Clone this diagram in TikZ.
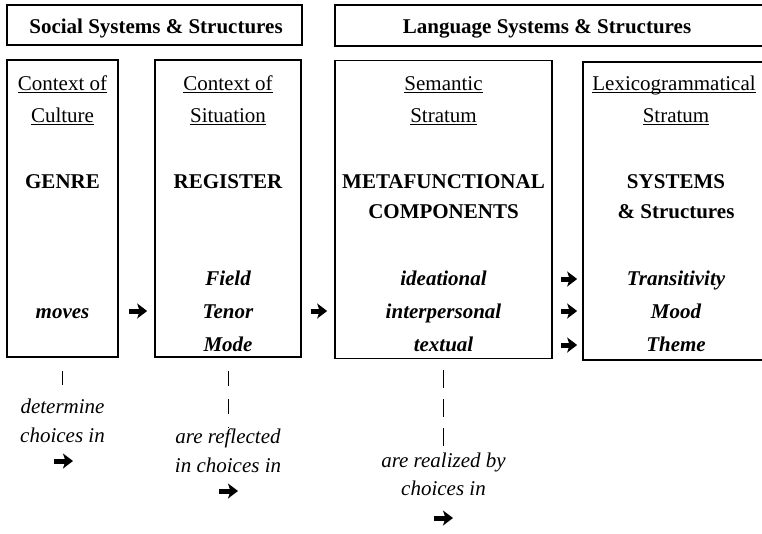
\documentclass[tikz,border=0pt]{standalone}
\usepackage{fontspec}
\setmainfont{Liberation Serif}
\usetikzlibrary{arrows.meta}
\newcommand\myul[1]{\setbox0\hbox{#1}\rlap{\rule[-3pt]{\wd0}{1.2pt}}\box0}
\begin{document}
\begin{tikzpicture}[x=1pt,y=-1pt,
  frame/.style={draw, line width=1.7pt, inner sep=0pt},
  txt/.style={anchor=base, inner sep=0pt, font=\fontsize{21}{25}\selectfont},
  bftxt/.style={txt, font=\fontsize{21}{25}\selectfont\bfseries},
  bitxt/.style={txt, font=\fontsize{21}{25}\selectfont\bfseries\itshape},
  ittxt/.style={txt, font=\fontsize{21}{25}\selectfont\itshape},
  fat/.style={line width=5pt, -{Stealth[length=10pt,width=15pt,inset=2.5pt]}},
  vline/.style={line width=1pt}]
\useasboundingbox (0,0) rectangle (762,533);
\fill[white] (0,0) rectangle (762,533);
\clip (0,0) rectangle (762,533);
% top boxes
\node[frame, minimum width=295pt, minimum height=40pt] (top1) at (154.5,25) {};
\node[frame, minimum width=435pt, minimum height=41pt] (top2) at (552.5,25.5) {};
\node[bftxt] (top1t) at (156,33) {Social Systems \& Structures};
\node[bftxt] (top2t) at (547,33) {Language Systems \& Structures};
% column boxes
\node[frame, minimum width=111pt, minimum height=297pt] (b1) at (62.5,208.5) {};
\node[frame, minimum width=146pt, minimum height=297pt] (b2) at (228,208.5) {};
\node[frame, minimum width=217pt, minimum height=298pt] (b3) at (443.5,209.5) {};
\node[frame, minimum width=186pt, minimum height=298pt] (b4) at (676,211) {};
% headers
\node[txt] (h1a) at (62.5,90) {\myul{Context of}};
\node[txt] (h1b) at (62.5,122) {\myul{Culture}};
\node[txt] (h2a) at (228,90) {\myul{Context of}};
\node[txt] (h2b) at (228,122) {\myul{Situation}};
\node[txt] (h3a) at (443.5,90) {\myul{Semantic}};
\node[txt] (h3b) at (443.5,122) {\myul{Stratum}};
\node[txt] (h4a) at (674,90) {\myul{Lexicogrammatical}};
\node[txt] (h4b) at (676,122) {\myul{Stratum}};
% main labels
\node[bftxt] (g1) at (62.5,188) {GENRE};
\node[bftxt] (g2) at (228,188) {REGISTER};
\node[bftxt] (g3) at (443.5,188) {METAFUNCTIONAL};
\node[bftxt] (g3b) at (443.5,218) {COMPONENTS};
\node[bftxt] (g4) at (676,188) {SYSTEMS};
\node[bftxt] (g4b) at (676,218) {\& Structures};
% items
\node[bitxt] (mv) at (62.5,318) {moves};
\node[bitxt] (f1) at (228,285) {Field};
\node[bitxt] (f2) at (228,318) {Tenor};
\node[bitxt] (f3) at (228,351) {Mode};
\node[bitxt] (m1) at (443.5,285) {ideational};
\node[bitxt] (m2) at (443.5,318) {interpersonal};
\node[bitxt] (m3) at (443.5,351) {textual};
\node[bitxt] (s1) at (676,285) {Transitivity};
\node[bitxt] (s2) at (676,318) {Mood};
\node[bitxt] (s3) at (676,351) {Theme};
% arrow rows
\coordinate (r1) at (0,279);
\coordinate (r2) at (0,311);
\coordinate (r3) at (0,345);
\draw[fat, shorten <=10pt, shorten >=7pt] (b1.east |- r2) -- (b2.west |- r2);
\draw[fat, shorten <=9pt, shorten >=7pt] (b2.east |- r2) -- (b3.west |- r2);
\draw[fat, shorten <=8pt, shorten >=5pt] (b3.east |- r1) -- (b4.west |- r1);
\draw[fat, shorten <=8pt, shorten >=5pt] (b3.east |- r2) -- (b4.west |- r2);
\draw[fat, shorten <=8pt, shorten >=5pt] (b3.east |- r3) -- (b4.west |- r3);
% bottom texts
\node[ittxt] (d1) at (62.5,413) {determine};
\node[ittxt] (d2) at (62.5,442) {choices in};
\node[ittxt] (e1) at (228,443) {are reflected};
\node[ittxt] (e2) at (228,472) {in choices in};
\node[ittxt] (k1) at (443.5,467) {are realized by};
\node[ittxt] (k2) at (443.5,495) {choices in};
% dashed links
\draw[vline, shorten <=13pt, dash pattern=on 14pt off 40pt] (b1.south) -- (d1.north);
\draw[vline, shorten <=13pt, dash pattern=on 15pt off 13pt] (b2.south) -- (e1.north);
\draw[vline, shorten <=11pt, dash pattern=on 18pt off 11pt] (b3.south) -- (k1.north);
% bottom arrows
\coordinate (p1) at (54,461); \coordinate (q1) at (73,461);
\coordinate (p2) at (219,491); \coordinate (q2) at (238,491);
\coordinate (p3) at (434,518); \coordinate (q3) at (453,518);
\draw[fat] (p1) -- (q1);
\draw[fat] (p2) -- (q2);
\draw[fat] (p3) -- (q3);
\end{tikzpicture}
\end{document}
